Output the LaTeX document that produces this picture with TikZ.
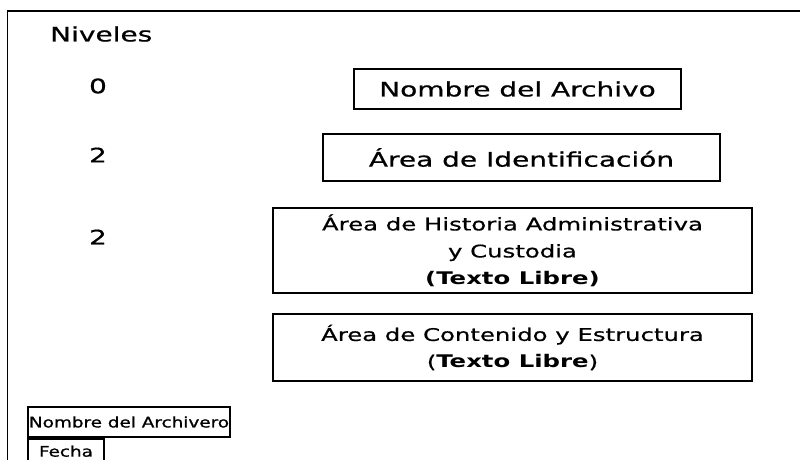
\documentclass[tikz,border=0pt]{standalone}
\usepackage{fontspec}
\setmainfont{DejaVu Sans}[FakeStretch=1.4, UprightFeatures={FakeBold=0.7}]
\newfontfamily\archfont{DejaVu Sans}[FakeStretch=1.26, FakeBold=1]
\usetikzlibrary{calc,positioning}

\tikzset{
  area/.style={draw, line width=2.4pt, inner sep=0pt, align=center,
    font=\fontsize{20}{24}\selectfont},
  areatxt/.style={area, font=\fontsize{17.4}{27}\selectfont},
  nivel/.style={inner sep=0pt, font=\fontsize{20}{24}\selectfont},
  firma/.style={draw, line width=2.2pt, inner sep=0pt,
    font=\archfont\fontsize{14.6}{17}\selectfont}
}

\begin{document}
\begin{tikzpicture}[x=1pt,y=-1pt]
	\useasboundingbox (0,0) rectangle (800,459);
	\clip (0,0) rectangle (800,459);
	% marco
	\draw[line width=1.2pt] (7.5,470) -- (7.5,11) -- (800,11);
	% niveles
	\node[nivel, anchor=west] (niv) at (50,34) {Niveles};
	\foreach \n/\y in {0/86, 2/155, 2/237} {
		\node[nivel] (lvl\y) at (98,\y) {\n};
	};
	% areas
	\node[area, minimum width=327pt, minimum height=40pt] (nom) at (517.5,89) {Nombre del Archivo};
	\node[area, minimum width=397pt, minimum height=47pt] (ident) at (521.5,157.5) {Área de Identificación};
	\node[areatxt, minimum width=479pt, minimum height=85pt] (hist) at (512.5,250.5)
		{Área de Historia Administrativa\\ y Custodia\\ \textbf{(Texto Libre)}};
	\node[areatxt, minimum width=479pt, minimum height=67pt] (cont) at (512.5,347.5)
		{Área de Contenido y Estructura\\ (\textbf{Texto Libre})};
	% archivero
	\node[firma, minimum width=202pt, minimum height=30pt] (arch) at (129,422) {Nombre del Archivero};
	\node[firma, minimum width=76pt, minimum height=24pt, anchor=north west] (fecha) at (arch.south west) {Fecha};
\end{tikzpicture}
\end{document}
